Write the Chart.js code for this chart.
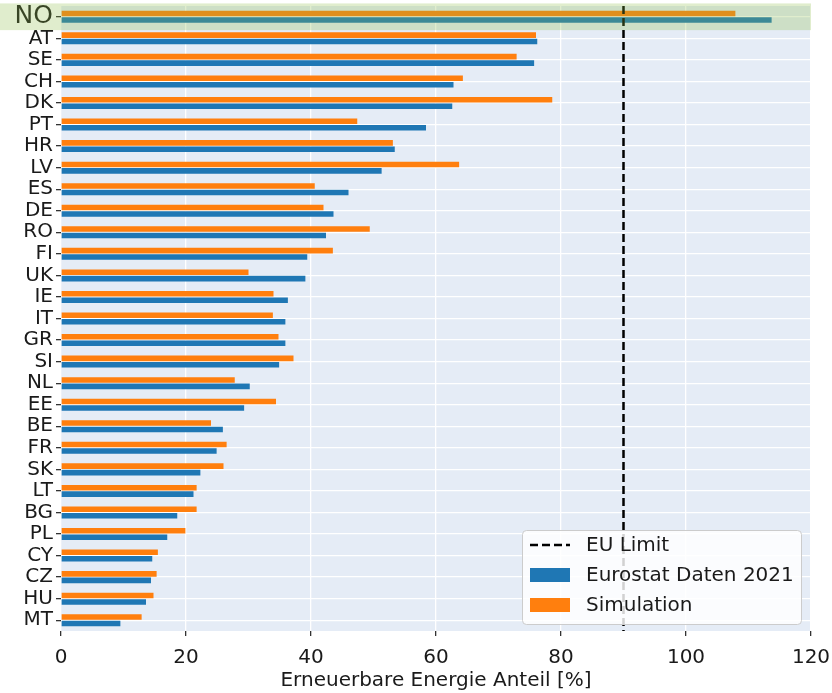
<!DOCTYPE html>
<html>
<head>
<meta charset="utf-8">
<script src="https://cdn.jsdelivr.net/npm/chart.js@4/dist/chart.umd.min.js"></script>
<style>
  html, body { margin: 0; padding: 0; background: #ffffff; }
  #wrap { width: 832px; height: 693px; position: relative; }
</style>
</head>
<body>
<div id="wrap"><canvas id="chart"></canvas></div>
<script>
// Renewable energy share per country (%)
const countries = ['NO','AT','SE','CH','DK','PT','HR','LV','ES','DE','RO','FI','UK','IE','IT','GR','SI','NL','EE','BE','FR','SK','LT','BG','PL','CY','CZ','HU','MT'];
const eurostat2021 = [113.7,76.2,75.7,62.8,62.6,58.4,53.4,51.3,46.0,43.6,42.4,39.4,39.1,36.3,35.9,35.9,34.9,30.2,29.3,25.9,24.9,22.3,21.2,18.6,17.0,14.6,14.4,13.6,9.5];
const simulation = [107.9,76.0,72.9,64.3,78.6,47.4,53.1,63.7,40.6,42.0,49.4,43.5,30.0,34.0,33.9,34.8,37.2,27.8,34.4,24.0,26.5,26.0,21.7,21.7,19.9,15.5,15.3,14.8,12.9];
const xTicks = [0, 20, 40, 60, 80, 100, 120];
const euLimit = 90;
const highlighted = 'NO';

const BLUE = '#1f77b4';
const ORANGE = '#ff7f0e';
const TEXT = '#1a1a1a';
const FONT = "'DejaVu Sans', sans-serif";

// Plot background
const plotBackground = {
  id: 'plotBackground',
  beforeDraw(chart) {
    const { ctx, chartArea: a } = chart;
    ctx.save();
    ctx.fillStyle = '#e5ecf6';
    ctx.fillRect(a.left, a.top, a.right - a.left, a.bottom - a.top);
    ctx.restore();
  }
};

// EU limit line, highlighted row and legend box
const overlays = {
  id: 'overlays',
  afterDraw(chart) {
    const { ctx, chartArea: a, scales } = chart;
    const x = scales.x, y = scales.y;

    // dashed EU limit
    const lx = x.getPixelForValue(euLimit);
    ctx.save();
    ctx.strokeStyle = '#000';
    ctx.lineWidth = 2.5;
    ctx.setLineDash([8, 4]);
    ctx.beginPath();
    ctx.moveTo(lx, a.top);
    ctx.lineTo(lx, a.bottom);
    ctx.stroke();
    ctx.restore();

    // highlighted country row
    const idx = countries.indexOf(highlighted);
    const step = (a.bottom - a.top) / countries.length;
    const cy = y.getPixelForValue(idx);
    ctx.save();
    ctx.fillStyle = 'rgba(140,190,70,0.27)';
    ctx.fillRect(0, cy - 0.62 * step, a.right, 1.24 * step);
    ctx.restore();

    // legend
    const bx = 522, by = 530, bw = 279, bh = 94;
    ctx.save();
    ctx.fillStyle = 'rgba(255,255,255,0.82)';
    ctx.strokeStyle = '#cccccc';
    ctx.lineWidth = 1;
    ctx.beginPath();
    ctx.roundRect(bx + 0.5, by + 0.5, bw, bh, 4);
    ctx.fill();
    ctx.stroke();

    const sx = 530, sw = 40, tx = 586;
    const rows = [
      { type: 'line', label: 'EU Limit' },
      { type: 'box', label: chart.data.datasets[1].label, color: chart.data.datasets[1].backgroundColor },
      { type: 'box', label: chart.data.datasets[0].label, color: chart.data.datasets[0].backgroundColor }
    ];
    ctx.font = '20px ' + FONT;
    ctx.textBaseline = 'middle';
    ctx.textAlign = 'left';
    rows.forEach((r, i) => {
      const ry = 545 + i * 30;
      if (r.type === 'line') {
        ctx.strokeStyle = '#000';
        ctx.lineWidth = 2.5;
        ctx.setLineDash([8, 4]);
        ctx.beginPath();
        ctx.moveTo(sx, ry);
        ctx.lineTo(sx + sw, ry);
        ctx.stroke();
        ctx.setLineDash([]);
      } else {
        ctx.fillStyle = r.color;
        ctx.fillRect(sx, ry - 7, sw, 14);
      }
      ctx.fillStyle = TEXT;
      ctx.fillText(r.label, tx, ry + 1);
    });
    ctx.restore();
  }
};

new Chart(document.getElementById('chart'), {
  type: 'bar',
  data: {
    labels: countries,
    datasets: [
      {
        label: 'Simulation',
        data: simulation,
        backgroundColor: ORANGE,
        borderWidth: 0,
        categoryPercentage: 0.6,
        barPercentage: 0.86
      },
      {
        label: 'Eurostat Daten 2021',
        data: eurostat2021,
        backgroundColor: BLUE,
        borderWidth: 0,
        categoryPercentage: 0.6,
        barPercentage: 0.86
      }
    ]
  },
  options: {
    indexAxis: 'y',
    responsive: true,
    maintainAspectRatio: false,
    animation: false,
    devicePixelRatio: 1,
    layout: { padding: { top: 6, right: 21, left: 0, bottom: 0 } },
    plugins: {
      legend: { display: false },
      tooltip: { enabled: false }
    },
    scales: {
      x: {
        type: 'linear',
        min: 0,
        max: 120,
        afterBuildTicks(scale) { scale.ticks = xTicks.map(v => ({ value: v })); },
        afterFit(scale) {
          scale.height = 62;
          scale.paddingLeft = 0;
          scale.paddingRight = 0;
        },
        border: { display: false },
        grid: {
          color: '#ffffff',
          lineWidth: 1.3,
          tickColor: '#333333',
          tickLength: 5,
          drawTicks: true
        },
        ticks: {
          color: TEXT,
          font: { family: FONT, size: 20 },
          padding: 10,
          maxRotation: 0
        },
        title: {
          display: true,
          text: 'Erneuerbare Energie Anteil [%]',
          color: TEXT,
          font: { family: FONT, size: 20 },
          padding: { top: 0, bottom: 0 }
        }
      },
      y: {
        type: 'category',
        afterFit(scale) {
          scale.width = 61;
          scale.paddingTop = 0;
          scale.paddingBottom = 0;
        },
        border: { display: false },
        grid: {
          offset: false,
          color: '#ffffff',
          lineWidth: 1.3,
          tickColor: '#333333',
          tickLength: 5
        },
        ticks: {
          color: TEXT,
          font: (c) => ({ family: FONT, size: countries[c.index] === highlighted ? 25 : 20 }),
          padding: 3,
          autoSkip: false
        }
      }
    }
  },
  plugins: [plotBackground, overlays]
});
</script>
</body>
</html>
